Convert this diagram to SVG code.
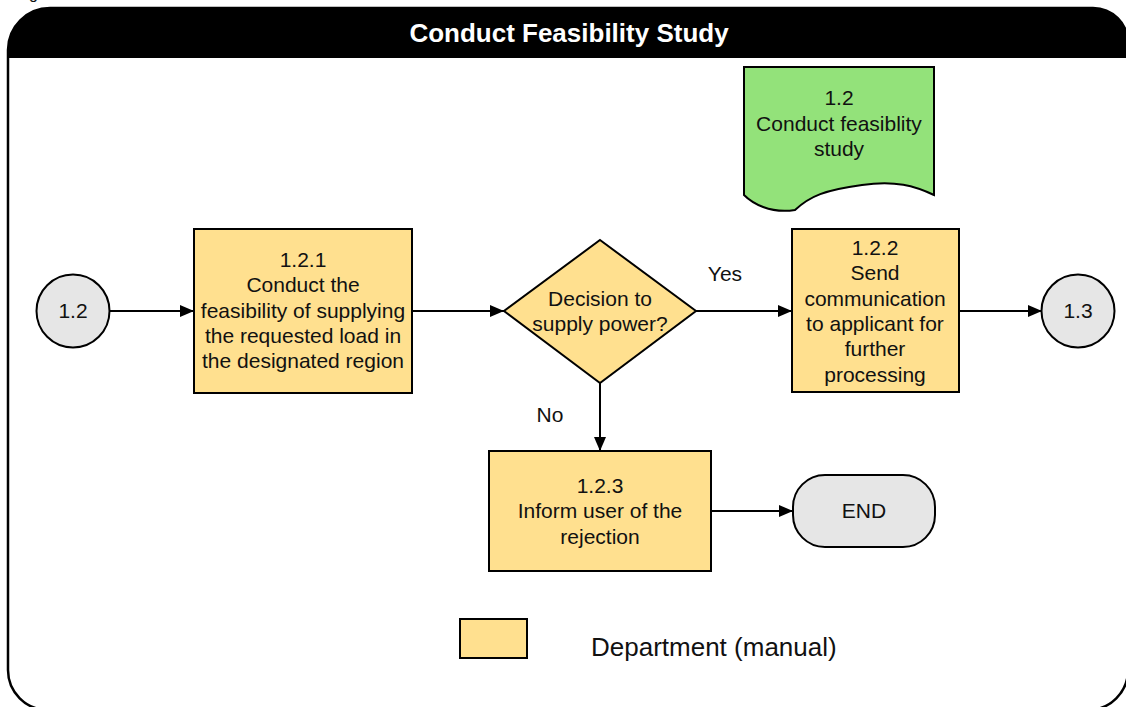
<svg xmlns="http://www.w3.org/2000/svg" width="1126" height="707" viewBox="0 0 1126 707">
  <defs>
    <marker id="arrow" viewBox="0 0 14 12" refX="14" refY="6" markerWidth="14" markerHeight="12" markerUnits="userSpaceOnUse" orient="auto">
      <path d="M0,0 L14,6 L0,12 Z" fill="#000"/>
    </marker>
    <style>
      .lbl { font-family: "Liberation Sans", Arial, sans-serif; font-size: 21px; fill: #111; text-anchor: middle; }
      .task { fill: #FFE08F; stroke: #000; stroke-width: 2; }
      .term { fill: #E6E6E6; stroke: #000; stroke-width: 2; }
      .doc { fill: #93E27A; stroke: #000; stroke-width: 2; }
      .edge { fill: none; stroke: #000; stroke-width: 2; marker-end: url(#arrow); }
    </style>
  </defs>

  <!-- clipped caption above the frame -->
  <text x="29" y="-1" font-family="Liberation Sans, Arial, sans-serif" font-size="16" fill="#111">g</text>

  <!-- swimlane frame with title band -->
  <g id="frame">
    <path d="M8,50 A42,42 0 0 1 50,8 L1093,8 A35,35 0 0 1 1128,43 L1128,670 A40,40 0 0 1 1088,710 L48,710 A40,40 0 0 1 8,670 Z" fill="#fff" stroke="#000" stroke-width="2.5"/>
    <path d="M8,58 L8,50 A42,42 0 0 1 50,8 L1093,8 A35,35 0 0 1 1128,43 L1128,58 Z" fill="#000"/>
    <text x="569" y="42" font-family="Liberation Sans, Arial, sans-serif" font-size="26" font-weight="bold" fill="#fff" text-anchor="middle">Conduct Feasibility Study</text>
  </g>

  <!-- connectors -->
  <g id="connectors">
    <line class="edge" x1="110" y1="311" x2="194" y2="311"/>
    <line class="edge" x1="412" y1="311" x2="504" y2="311"/>
    <line class="edge" x1="696" y1="311" x2="792" y2="311"/>
    <line class="edge" x1="959" y1="311" x2="1042" y2="311"/>
    <line class="edge" x1="600" y1="383" x2="600" y2="451"/>
    <line class="edge" x1="711" y1="511" x2="793" y2="511"/>
    <text class="lbl" x="725" y="281">Yes</text>
    <text class="lbl" x="550" y="422">No</text>
  </g>

  <g id="start-1-2">
    <circle class="term" cx="73" cy="311" r="36.5"/>
    <text class="lbl" x="73" y="318">1.2</text>
  </g>

  <g id="doc-1-2">
    <path class="doc" d="M744,67 L934,67 L934,195 C915,186 895,180 862,185 C825,190 810,196 795,210 C770,214 752,203 744,195 Z"/>
    <text class="lbl" x="839" y="105">1.2</text>
    <text class="lbl" x="839" y="131">Conduct feasiblity</text>
    <text class="lbl" x="839" y="156">study</text>
  </g>

  <g id="task-1-2-1">
    <rect class="task" x="194" y="229" width="218" height="164"/>
    <text class="lbl" x="303" y="267">1.2.1</text>
    <text class="lbl" x="303" y="292">Conduct the</text>
    <text class="lbl" x="303" y="318">feasibility of supplying</text>
    <text class="lbl" x="303" y="343">the requested load in</text>
    <text class="lbl" x="303" y="368">the designated region</text>
  </g>

  <g id="decision">
    <polygon class="task" points="600,240 696,311 600,383 504,311"/>
    <text class="lbl" x="600" y="306">Decision to</text>
    <text class="lbl" x="600" y="331">supply power?</text>
  </g>

  <g id="task-1-2-2">
    <rect class="task" x="792" y="229" width="167" height="163"/>
    <text class="lbl" x="875" y="255">1.2.2</text>
    <text class="lbl" x="875" y="280">Send</text>
    <text class="lbl" x="875" y="306">communication</text>
    <text class="lbl" x="875" y="331">to applicant for</text>
    <text class="lbl" x="875" y="356">further</text>
    <text class="lbl" x="875" y="382">processing</text>
  </g>

  <g id="end-1-3">
    <circle class="term" cx="1078" cy="311" r="36.5"/>
    <text class="lbl" x="1078" y="318">1.3</text>
  </g>

  <g id="task-1-2-3">
    <rect class="task" x="489" y="451" width="222" height="120"/>
    <text class="lbl" x="600" y="493">1.2.3</text>
    <text class="lbl" x="600" y="518">Inform user of the</text>
    <text class="lbl" x="600" y="544">rejection</text>
  </g>

  <g id="end">
    <rect class="term" x="793" y="475" width="142" height="72" rx="32" ry="32"/>
    <text class="lbl" x="864" y="518">END</text>
  </g>

  <g id="legend">
    <rect class="task" x="460" y="619" width="67" height="39"/>
    <text x="591" y="656" font-family="Liberation Sans, Arial, sans-serif" font-size="26" fill="#111">Department (manual)</text>
  </g>
</svg>
